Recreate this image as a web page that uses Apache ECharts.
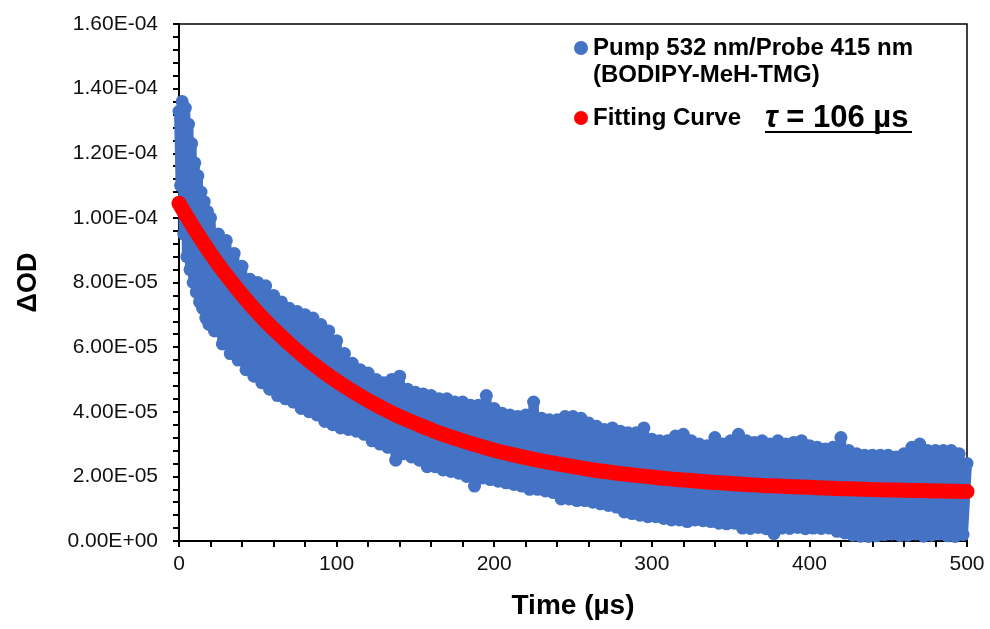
<!DOCTYPE html>
<html>
<head>
<meta charset="utf-8">
<script src="https://cdn.jsdelivr.net/npm/echarts@6/dist/echarts.min.js"></script>
<style>html,body{margin:0;padding:0;background:#fff}#c{width:990px;height:629px}</style>
</head>
<body>
<div id="c"></div>
<script>
// ---- data (ΔOD values in units of 1e-6) ----
const blueTime = [
0,1,2,3,4,5,6,7,8,9,10,11,12,13,14,15,16,17,18,19,20,
22.5,25,27.5,30,32.5,35,37.5,40,42.5,45,47.5,
50,52.5,55,57.5,60,62.5,65,67.5,70,72.5,75,77.5,80,82.5,85,87.5,90,92.5,95,97.5,
100,102.5,105,107.5,110,112.5,115,117.5,120,122.5,125,127.5,130,132.5,135,137.5,140,142.5,145,147.5,
150,152.5,155,157.5,160,162.5,165,167.5,170,172.5,175,177.5,180,182.5,185,187.5,190,192.5,195,197.5,
200,202.5,205,207.5,210,212.5,215,217.5,220,222.5,225,227.5,230,232.5,235,237.5,240,242.5,245,247.5,
250,252.5,255,257.5,260,262.5,265,267.5,270,272.5,275,277.5,280,282.5,285,287.5,290,292.5,295,297.5,
300,302.5,305,307.5,310,312.5,315,317.5,320,322.5,325,327.5,330,332.5,335,337.5,340,342.5,345,347.5,
350,352.5,355,357.5,360,362.5,365,367.5,370,372.5,375,377.5,380,382.5,385,387.5,390,392.5,395,397.5,
400,402.5,405,407.5,410,412.5,415,417.5,420,422.5,425,427.5,430,432.5,435,437.5,440,442.5,445,447.5,
450,452.5,455,457.5,460,462.5,465,467.5,470,472.5,475,477.5,480,482.5,485,487.5,490,492.5,495,497.5,
500];
const blueOD_e6 = [
133,110,136,95,134,88,129,84,123,80,117,77,113,74,108,72,105,69,102,67,100,
65,95,61,93,58,89,56,85,53,81,51,
80,49,79,47,76,45,74,44,72,43,71,41,70,40,69,39,67,37,65,36,
62,35,58,34.5,55,34,53,33,52,31,50,30,49,29,50,25,51,27,47,26,
46,25,45.5,23,45,23,44,22,44,21.5,43,21,43,20,42,17,42,19.5,45,19,
41,18.5,39.5,18,39,17.5,38.5,17,39,16,43,16,38,15.5,37.5,15,37.5,13,38.5,13,
38.5,12.5,38,12.5,36.5,12,35.5,11.5,34.5,11,35,10.5,34,9,33.5,8.5,33.5,8,35,7.5,
31.5,7.5,31,7,31,6.5,32.5,6.5,33,6,31,6.5,30,6.3,29.5,6,32,5.5,30,5.3,
31,5.5,33,4,31,3.9,30.5,4.2,31,3.8,30,2.3,31,4,30,3.9,30.5,4.2,31,3.8,
29.5,4,29,3.9,28.5,4,29,3,32,2.5,28,1.8,27,1.5,26.5,1.4,26.5,1.6,26.5,2,
26.5,2.2,26,1.7,27,1.8,29,2.2,30,1.5,28,1.8,28,2.2,28,1.6,28,1.4,27,2,
24];
const fitTime = [0,10,20,30,40,50,60,70,80,90,100,110,120,130,140,150,160,170,180,190,200,
210,220,230,240,250,260,270,280,290,300,310,320,330,340,350,360,370,380,390,400,
410,420,430,440,450,460,470,480,490,500];
const fitOD_e6 = [104.5,96.4,89.0,82.3,76.2,70.6,65.6,61.0,56.8,53.0,49.5,
46.4,43.5,40.9,38.5,36.4,34.4,32.6,31.0,29.5,28.1,
26.9,25.8,24.8,23.9,23.0,22.2,21.5,20.9,20.3,19.8,
19.3,18.9,18.5,18.1,17.8,17.5,17.2,17.0,16.8,16.6,
16.4,16.2,16.1,15.9,15.8,15.7,15.6,15.5,15.4,15.3];
const seriesNames = ['Pump 532 nm/Probe 415 nm', 'Fitting Curve'];
const seriesSub = '(BODIPY-MeH-TMG)';
const tauText = '106 µs';
const xTitle = 'Time (µs)';
const yTitle = 'ΔOD';

const BLUE = '#4472C4', RED = '#FF0000';
const blueData = blueTime.map((t, i) => [t, blueOD_e6[i] * 1e-6]);
const fitData = fitTime.map((t, i) => [t, fitOD_e6[i] * 1e-6]);

function sci(v) {
  if (Math.abs(v) < 1e-12) return '0.00E+00';
  const s = v.toExponential(2);
  const parts = s.split('e');
  const e = parseInt(parts[1], 10);
  return parts[0] + 'E' + (e < 0 ? '-' : '+') + String(Math.abs(e)).padStart(2, '0');
}

const FONT = '"Liberation Sans", Arial, sans-serif';
const chart = echarts.init(document.getElementById('c'), null, {renderer: 'canvas'});
chart.setOption({
  animation: false,
  backgroundColor: '#fff',
  grid: {left: 179, right: 23, top: 24, bottom: 88, show: true, borderColor: '#000', borderWidth: 1.5, backgroundColor: 'transparent'},
  xAxis: {
    type: 'value', min: 0, max: 500, interval: 100,
    name: xTitle, nameLocation: 'middle', nameGap: 51,
    nameTextStyle: {fontFamily: FONT, fontWeight: 'bold', fontSize: 28, color: '#000'},
    axisLine: {show: true, onZero: false, lineStyle: {color: '#000', width: 2}},
    axisTick: {show: true, inside: false, length: 6, lineStyle: {color: '#000', width: 2}},
    minorTick: {show: true, splitNumber: 5, length: 6, lineStyle: {color: '#000', width: 2}},
    axisLabel: {fontFamily: FONT, fontSize: 21, color: '#111', margin: 13},
    splitLine: {show: false}
  },
  yAxis: {
    type: 'value', min: 0, max: 1.6e-4, interval: 2e-5,
    name: yTitle, nameLocation: 'middle', nameGap: 137,
    nameTextStyle: {fontFamily: FONT, fontWeight: 'bold', fontSize: 27, color: '#000'},
    axisLine: {show: true, lineStyle: {color: '#000', width: 2}},
    axisTick: {show: true, inside: false, length: 6, lineStyle: {color: '#000', width: 2}},
    minorTick: {show: true, splitNumber: 5, length: 6, lineStyle: {color: '#000', width: 2}},
    axisLabel: {fontFamily: FONT, fontSize: 21, color: '#111', margin: 21, formatter: sci},
    splitLine: {show: false}
  },
  series: [
    {
      name: seriesNames[0], type: 'line', data: blueData, clip: false,
      symbol: 'circle', symbolSize: 13, showSymbol: true, showAllSymbol: true,
      itemStyle: {color: BLUE}, lineStyle: {color: BLUE, width: 10, join: 'round', cap: 'round'},
      z: 2
    },
    {
      name: seriesNames[1], type: 'line', data: fitData, clip: false, smooth: true,
      symbol: 'none', lineStyle: {color: RED, width: 15, cap: 'round', join: 'round'},
      z: 3
    }
  ],
  graphic: [
    {type: 'circle', shape: {cx: 581, cy: 48, r: 7}, style: {fill: BLUE}},
    {type: 'text', x: 593, y: 48, style: {text: seriesNames[0], fontFamily: FONT, fontWeight: 'bold', fontSize: 24, fill: '#000', verticalAlign: 'middle'}},
    {type: 'text', x: 593, y: 75, style: {text: seriesSub, fontFamily: FONT, fontWeight: 'bold', fontSize: 24, fill: '#000', verticalAlign: 'middle'}},
    {type: 'circle', shape: {cx: 581, cy: 118, r: 7}, style: {fill: RED}},
    {type: 'text', x: 593, y: 118, style: {text: seriesNames[1], fontFamily: FONT, fontWeight: 'bold', fontSize: 24, fill: '#000', verticalAlign: 'middle'}},
    {type: 'text', x: 765, y: 118, style: {
      text: '{t|τ}{n| = ' + tauText + '}', verticalAlign: 'middle',
      rich: {
        t: {fontFamily: FONT, fontStyle: 'italic', fontWeight: 'bold', fontSize: 31, fill: '#000'},
        n: {fontFamily: FONT, fontWeight: 'bold', fontSize: 31, fill: '#000'}
      }}},
    {type: 'line', shape: {x1: 765, y1: 132, x2: 912, y2: 132}, style: {stroke: '#000', lineWidth: 2}}
  ]
});
</script>
</body>
</html>
